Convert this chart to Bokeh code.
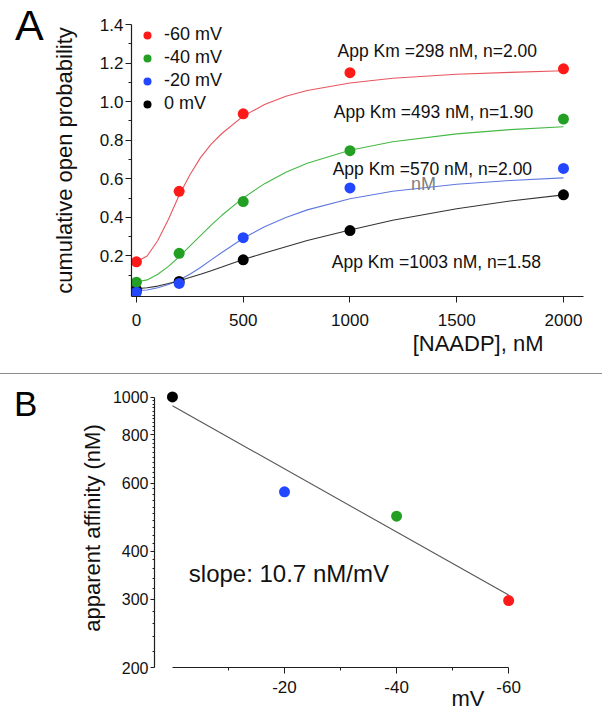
from bokeh.plotting import figure
from bokeh.models import (Range1d, FixedTicker, Label, Legend, LegendItem, Div,
                          NumeralTickFormatter, Title)
from bokeh.layouts import column, row
from bokeh.embed import file_html
from bokeh.resources import INLINE

FONT = "Liberation Sans"
AX = "#1e1e1e"

# ---------------- Panel A data ----------------
naadp = [0, 200, 500, 1000, 2000]
po_m60 = [0.17, 0.535, 0.937, 1.15, 1.17]
po_m40 = [0.064, 0.214, 0.482, 0.746, 0.91]
po_m20 = [0.012, 0.058, 0.295, 0.553, 0.654]
po_0 = [0.026, 0.068, 0.18, 0.332, 0.517]

fit_x = [0, 50, 100, 150, 200, 250, 300, 350, 400, 500, 600, 700, 800,
         1000, 1200, 1500, 1750, 2000]
fit_m60 = [0.17, 0.2, 0.28, 0.39, 0.515, 0.62, 0.71, 0.78, 0.835, 0.925, 0.985,
           1.028, 1.058, 1.097, 1.121, 1.142, 1.152, 1.16]
fit_m40 = [0.065, 0.076, 0.105, 0.146, 0.196, 0.251, 0.306, 0.36, 0.411, 0.501,
           0.575, 0.634, 0.681, 0.748, 0.792, 0.833, 0.855, 0.87]
fit_m20 = [0.02, 0.024, 0.035, 0.052, 0.075, 0.105, 0.14, 0.18, 0.218, 0.292,
           0.352, 0.40, 0.439, 0.497, 0.536, 0.572, 0.591, 0.605]
fit_0 = [0.03, 0.035, 0.044, 0.057, 0.072, 0.088, 0.105, 0.124, 0.143, 0.182,
         0.215, 0.248, 0.28, 0.335, 0.385, 0.445, 0.485, 0.517]

series_labels = ["-60 mV", "-40 mV", "-20 mV", "0 mV"]
fit_texts = ["App Km =298 nM, n=2.00", "App Km =493 nM, n=1.90",
             "App Km =570 nM, n=2.00", "App Km =1003 nM, n=1.58"]
a_yticks = [0.2, 0.4, 0.6, 0.8, 1.0, 1.2, 1.4]
a_yminor = [0.1, 0.3, 0.5, 0.7, 0.9, 1.1, 1.3]
a_xticks = [0, 500, 1000, 1500, 2000]

# ---------------- Panel B data ----------------
voltage = [0, -20, -40, -60]
affinity = [1003, 570, 493, 298]
fit_v = [0, -60]
fit_aff = [952, 308]
b_yticks = [200, 300, 400, 600, 800, 1000]
b_yminor = [v for v in range(220, 1000, 20) if v not in b_yticks]
b_xticks = [-20, -40, -60]
b_xminor = [-10, -30, -50]

C_DOT = ["#ff1a1a", "#23a023", "#2347ff", "#000000"]
C_FIT = ["#e8555f", "#45b845", "#6078e0", "#333333"]


def style_axis(ax, label_size="17px"):
    ax.axis_line_color = AX
    ax.axis_line_width = 1.2
    ax.major_tick_line_color = AX
    ax.minor_tick_line_color = AX
    ax.major_tick_in = 0
    ax.minor_tick_in = 0
    ax.major_label_text_font = FONT
    ax.major_label_text_font_size = label_size
    ax.major_label_text_color = "#111111"
    ax.axis_label_text_font = FONT
    ax.axis_label_text_font_style = "normal"
    ax.axis_label_text_font_size = "22px"
    ax.axis_label_text_color = "#111111"


DIV_W = 48


def panel_letter(letter, size, pad_left, pad_top, height):
    return Div(text=letter, width=DIV_W, height=height, margin=0,
               styles={"font-family": FONT, "font-size": size,
                       "line-height": "1", "padding-left": pad_left,
                       "padding-top": pad_top, "color": "#000000"})


# ================= Panel A =================
pA = figure(width=594 - DIV_W, height=373,
            x_range=Range1d(-23.2, 2093.8), y_range=Range1d(-0.01, 1.4),
            output_backend="svg", toolbar_location=None,
            min_border_left=127 - DIV_W, min_border_right=11, min_border_top=24,
            min_border_bottom=77)
pA.outline_line_color = None
pA.grid.visible = False
pA.background_fill_color = None
pA.border_fill_color = None

pA.xaxis.ticker = FixedTicker(ticks=a_xticks, minor_ticks=[])
pA.yaxis.ticker = FixedTicker(ticks=a_yticks, minor_ticks=a_yminor)
pA.yaxis.formatter = NumeralTickFormatter(format="0.0")
for ax in (pA.xaxis[0], pA.yaxis[0]):
    style_axis(ax)
pA.xaxis.major_tick_out = 6
pA.xaxis.major_label_standoff = 11
pA.yaxis.major_tick_out = 6
pA.yaxis.minor_tick_out = 3
pA.yaxis.major_label_standoff = 2
pA.yaxis.axis_label = "cumulative open probability"
pA.yaxis.axis_label_standoff = 20

fits = [fit_m60, fit_m40, fit_m20, fit_0]
pts = [po_m60, po_m40, po_m20, po_0]
for f, c in zip(fits, C_FIT):
    pA.line(fit_x, f, line_color=c, line_width=1.1)

renderers = {}
for i in [3, 0, 1, 2]:
    renderers[i] = pA.scatter(naadp, pts[i], size=11, fill_color=C_DOT[i],
                              line_color=None)

legend = Legend(items=[LegendItem(label=series_labels[i], renderers=[renderers[i]])
                       for i in range(4)],
                location="top_left", padding=0, spacing=2, margin=0,
                glyph_width=32, glyph_height=20, label_height=20,
                label_standoff=1, label_text_font=FONT,
                label_text_font_size="18px", label_text_color="#111111",
                border_line_color=None, background_fill_alpha=0)
pA.add_layout(legend)

txt_pos = [(942, 1.264), (924, 0.945), (919, 0.651), (915, 0.171)]
for t, (x, y) in zip(fit_texts, txt_pos):
    pA.add_layout(Label(x=x, y=y, text=t, text_font=FONT, text_font_size="17.5px",
                        text_baseline="middle", text_color="#111111"))
pA.add_layout(Label(x=1286, y=0.574, text="nM", text_font=FONT,
                    text_font_size="18px", text_baseline="middle",
                    text_color="#808080"))
pA.add_layout(Title(text="[NAADP], nM", align="right", offset=40, standoff=0,
                    text_font=FONT, text_font_size="22px",
                    text_font_style="normal", text_color="#111111"), "below")

sep = Div(text="", width=602, height=1, margin=0,
          styles={"background-color": "#8c8c8c"})

# ================= Panel B =================
pB = figure(width=594 - DIV_W, height=346,
            x_range=Range1d(3.2, -63.9), y_range=Range1d(200, 1055),
            y_axis_type="log", output_backend="svg", toolbar_location=None,
            min_border_left=154 - DIV_W, min_border_right=64, min_border_top=14,
            min_border_bottom=53)
pB.outline_line_color = None
pB.grid.visible = False
pB.background_fill_color = None
pB.border_fill_color = None

pB.xaxis.ticker = FixedTicker(ticks=b_xticks, minor_ticks=b_xminor)
pB.xaxis.formatter = NumeralTickFormatter(format="0")
pB.yaxis.ticker = FixedTicker(ticks=b_yticks, minor_ticks=b_yminor)
pB.yaxis.formatter = NumeralTickFormatter(format="0")
style_axis(pB.xaxis[0], "17px")
style_axis(pB.yaxis[0], "16px")
pB.xaxis.bounds = (-60, 0)
pB.yaxis.bounds = (200, 1000)
pB.xaxis.major_tick_out = 6
pB.xaxis.minor_tick_out = 3
pB.xaxis.major_label_standoff = 7
pB.yaxis.major_tick_out = 4
pB.yaxis.minor_tick_out = 2
pB.yaxis.major_label_standoff = 2
pB.yaxis.axis_label = "apparent affinity (nM)"
pB.yaxis.axis_label_standoff = 5

pB.line(fit_v, fit_aff, line_color="#555555", line_width=1.1)
pB.scatter(voltage, affinity, size=11, fill_color=C_DOT[::-1], line_color=None)

pB.add_layout(Label(x=-2.92, y=350, text="slope: 10.7 nM/mV", text_font=FONT,
                    text_font_size="24px", text_baseline="middle",
                    text_color="#111111"))
pB.add_layout(Title(text="mV", align="right", offset=46, standoff=-24,
                    text_font=FONT, text_font_size="22px",
                    text_font_style="normal", text_color="#111111"), "below")

rowA = row(panel_letter("A", "43px", "15px", "4px", 373), pA, spacing=0)
rowB = row(panel_letter("B", "35px", "14px", "12px", 346), pB, spacing=0)
layout = column(rowA, sep, rowB, spacing=0)
open("out.html", "w").write(file_html(layout, INLINE))
